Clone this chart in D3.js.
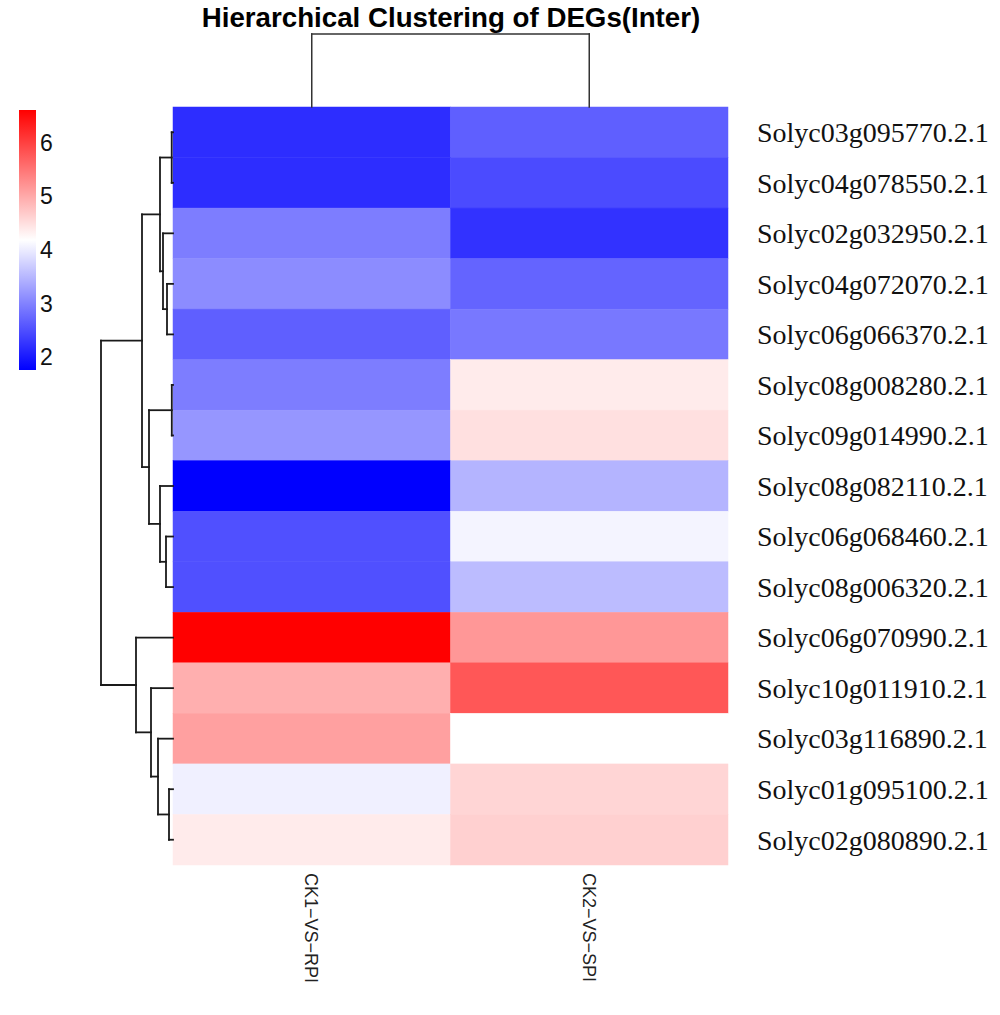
<!DOCTYPE html>
<html>
<head>
<meta charset="utf-8">
<script src="https://cdn.jsdelivr.net/npm/d3@7"></script>
<style>
  body { margin: 0; background: #fff; }
  .row-label { font-family: "Liberation Serif", "Times New Roman", serif; font-size: 28px; fill: #111; }
  .col-label { font-family: "Liberation Sans", Arial, sans-serif; font-size: 18px; fill: #222; }
  .legend-label { font-family: "Liberation Sans", Arial, sans-serif; font-size: 23px; fill: #111; }
  .title { font-family: "Liberation Sans", Arial, sans-serif; font-size: 27.7px; font-weight: bold; fill: #000; }
</style>
</head>
<body>
<div id="chart"></div>
<script>
// genes in the clustered (displayed) order
const genes = [
  'Solyc03g095770.2.1', 'Solyc04g078550.2.1', 'Solyc02g032950.2.1',
  'Solyc04g072070.2.1', 'Solyc06g066370.2.1', 'Solyc08g008280.2.1',
  'Solyc09g014990.2.1', 'Solyc08g082110.2.1', 'Solyc06g068460.2.1',
  'Solyc08g006320.2.1', 'Solyc06g070990.2.1', 'Solyc10g011910.2.1',
  'Solyc03g116890.2.1', 'Solyc01g095100.2.1', 'Solyc02g080890.2.1'
];
const samples = ['CK1\u2212VS\u2212RPI', 'CK2\u2212VS\u2212SPI'];

// values per sample, same order as genes
const ck1Values = [2.19, 2.19, 2.95, 3.09, 2.66, 2.95, 3.18, 1.76, 2.52, 2.52, 6.60, 4.94, 5.08, 4.04, 4.37];
const ck2Values = [2.66, 2.47, 2.23, 2.71, 2.90, 4.37, 4.47, 3.47, 4.08, 3.54, 5.17, 5.77, 4.18, 4.58, 4.63];

// row dendrogram, hclust style: negative = leaf (1-based), positive = earlier merge (1-based)
const rowMerges = [
  [-1, -2], [-6, -7], [-4, -5], [-14, -15], [-9, -10], [-3, 3], [1, 6], [-8, 5],
  [-13, 4], [2, 8], [-12, 9], [7, 10], [-11, 11], [12, 13]
];
const rowHeights = [0.13, 0.12, 0.6, 0.4, 0.7, 1.0, 1.3, 1.3, 1.5, 2.4, 2.2, 3.1, 3.7, 7.2];

const colMerges = [[-1, -2]];
const colHeights = [1];

const legendTicks = [2, 3, 4, 5, 6];
const titleText = 'Hierarchical Clustering of DEGs(Inter)';

const width = 1000, height = 1015;
const hm = { left: 173, right: 728, top: 107, bottom: 865 };

const svg = d3.select('#chart').append('svg')
  .attr('width', width)
  .attr('height', height);

const cells = [];
genes.forEach((g, i) => {
  cells.push({ gene: g, sample: samples[0], value: ck1Values[i] });
  cells.push({ gene: g, sample: samples[1], value: ck2Values[i] });
});

const x = d3.scaleBand(samples, [hm.left, hm.right]);
const y = d3.scaleBand(genes, [hm.top, hm.bottom]);

const [vMin, vMax] = d3.extent(cells, d => d.value);
const color = d3.scaleLinear()
  .domain([vMin, (vMin + vMax) / 2, vMax])
  .range(['#0000ff', '#ffffff', '#ff0000']);

// Heatmap cells
svg.append('g')
  .selectAll('rect')
  .data(cells)
  .join('rect')
  .attr('x', d => x(d.sample))
  .attr('y', d => y(d.gene))
  .attr('width', x.bandwidth())
  .attr('height', y.bandwidth())
  .attr('fill', d => color(d.value))
  .attr('stroke', d => color(d.value))
  .attr('stroke-width', 0.5);

// Row labels
svg.append('g')
  .selectAll('text')
  .data(genes)
  .join('text')
  .attr('class', 'row-label')
  .attr('x', 757)
  .attr('y', d => y(d) + y.bandwidth() / 2)
  .attr('dy', '0.35em')
  .text(d => d);

// Column labels (rotated)
svg.append('g')
  .selectAll('text')
  .data(samples)
  .join('text')
  .attr('class', 'col-label')
  .attr('transform', d => `translate(${x(d) + x.bandwidth() / 2}, 873) rotate(90)`)
  .attr('dy', '0.35em')
  .text(d => d);

// Dendrogram helper: returns segments for merges
function dendroSegments(merges, heights, leafPos) {
  const nodes = [];
  const segs = [];
  const pos = idx => idx < 0 ? { p: leafPos(-idx - 1), h: 0 } : nodes[idx - 1];
  merges.forEach(([a, b], i) => {
    const na = pos(a), nb = pos(b), h = heights[i];
    segs.push({ p1: na.p, h1: na.h, p2: na.p, h2: h });
    segs.push({ p1: nb.p, h1: nb.h, p2: nb.p, h2: h });
    segs.push({ p1: na.p, h1: h, p2: nb.p, h2: h });
    nodes.push({ p: (na.p + nb.p) / 2, h: h });
  });
  return segs;
}

// Row dendrogram (left)
const rowH = d3.scaleLinear([0, d3.max(rowHeights)], [hm.left, 101]);
const rowSegs = dendroSegments(rowMerges, rowHeights, i => y(genes[i]) + y.bandwidth() / 2);
svg.append('g')
  .selectAll('line')
  .data(rowSegs)
  .join('line')
  .attr('x1', d => rowH(d.h1))
  .attr('x2', d => rowH(d.h2))
  .attr('y1', d => d.p1)
  .attr('y2', d => d.p2)
  .attr('stroke', '#1a1a1a')
  .attr('stroke-width', 1.8)
  .attr('stroke-linecap', 'square');

// Column dendrogram (top)
const colH = d3.scaleLinear([0, d3.max(colHeights)], [hm.top, 34]);
const colSegs = dendroSegments(colMerges, colHeights, i => x(samples[i]) + x.bandwidth() / 2);
svg.append('g')
  .selectAll('line')
  .data(colSegs)
  .join('line')
  .attr('y1', d => colH(d.h1))
  .attr('y2', d => colH(d.h2))
  .attr('x1', d => d.p1)
  .attr('x2', d => d.p2)
  .attr('stroke', '#333')
  .attr('stroke-width', 1.5)
  .attr('stroke-linecap', 'square');

// Title
svg.append('text')
  .attr('class', 'title')
  .attr('x', 451)
  .attr('y', 27)
  .attr('text-anchor', 'middle')
  .text(titleText);

// Legend
const legendY = d3.scaleLinear([vMin, vMax], [370, 110]);
const defs = svg.append('defs');
const grad = defs.append('linearGradient')
  .attr('id', 'legend-grad')
  .attr('x1', 0).attr('y1', 1).attr('x2', 0).attr('y2', 0);
d3.range(0, 1.0001, 0.05).forEach(t => {
  grad.append('stop')
    .attr('offset', t)
    .attr('stop-color', color(vMin + t * (vMax - vMin)));
});
svg.append('rect')
  .attr('x', 19)
  .attr('y', legendY(vMax))
  .attr('width', 17)
  .attr('height', legendY(vMin) - legendY(vMax))
  .attr('fill', 'url(#legend-grad)');

svg.append('g')
  .selectAll('text')
  .data(legendTicks)
  .join('text')
  .attr('class', 'legend-label')
  .attr('x', 40)
  .attr('y', d => legendY(d))
  .attr('dy', '0.36em')
  .text(d => d);
</script>
</body>
</html>
